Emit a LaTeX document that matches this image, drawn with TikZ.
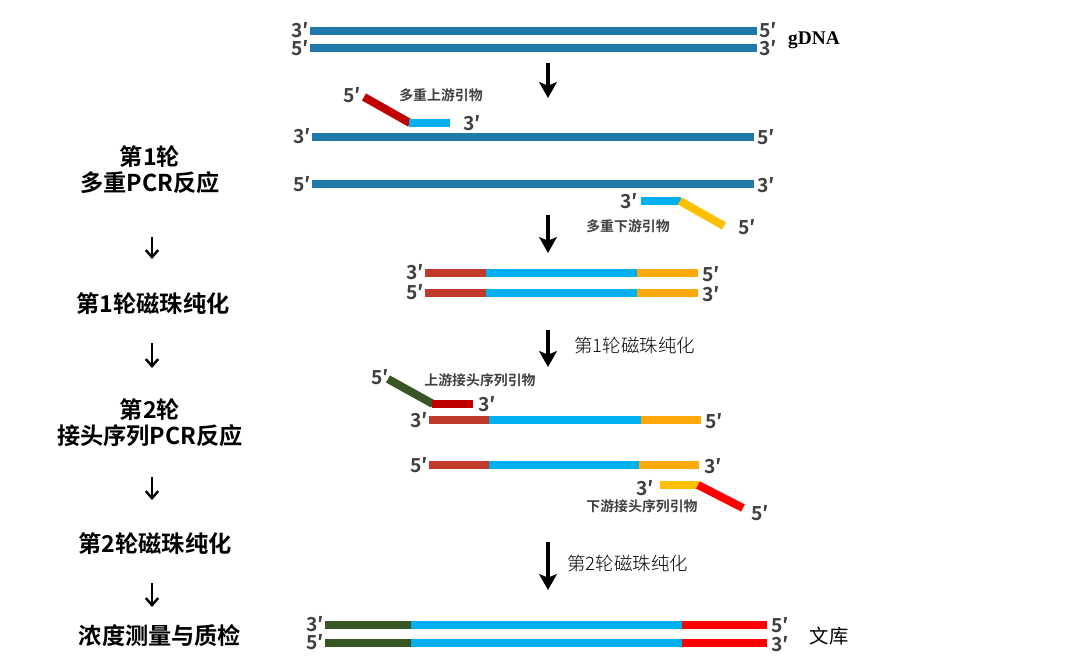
\documentclass[tikz,border=0pt]{standalone}
\usepackage{fontspec}
\setmainfont{Noto Sans CJK SC}
\newfontfamily\cjkbold{Noto Sans CJK SC Bold}
\newfontfamily\cjklight{Noto Sans CJK SC Light}
\newfontfamily\tnr{Liberation Serif}
\usetikzlibrary{arrows.meta}

\definecolor{gblue}{RGB}{31,120,170}
\definecolor{icyan}{RGB}{0,176,240}
\definecolor{fred}{RGB}{192,57,43}
\definecolor{pred}{RGB}{192,0,0}
\definecolor{forange}{RGB}{255,168,12}
\definecolor{pyellow}{RGB}{255,192,0}
\definecolor{agreen}{RGB}{55,86,35}
\definecolor{ared}{RGB}{255,0,0}
\definecolor{lblgray}{RGB}{64,64,64}

\tikzset{
  strand/.style={line width=4.6pt},
  primer/.style={line width=4.6pt},
  prime/.style={font=\cjkbold\fontsize{11}{11}\selectfont, text=lblgray, inner sep=0.5pt},
  primerlbl/.style={font=\cjkbold\fontsize{7.9}{8}\selectfont, text=lblgray, inner sep=0pt},
  steplbl/.style={font=\cjkbold\fontsize{13.2}{14.8}\selectfont, align=center, inner sep=0pt},
  purelbl/.style={font=\cjklight\fontsize{10.5}{11}\selectfont, anchor=west, inner sep=0pt},
  bigarrow/.style={line width=2.4pt, -{Stealth[length=9pt, width=10pt, inset=2pt]}},
  flowarrow/.style={line width=1.4pt, -{Straight Barb[length=4pt, width=7pt]}},
}

\begin{document}
\begin{tikzpicture}[x=0.02cm, y=-0.02cm]
  \useasboundingbox (0,0) rectangle (1080,661);

  % Flow chart on the left
  \node[steplbl] (k1) at (150,170) {第1轮\\多重PCR反应};
  \node[steplbl] (k2) at (153,304) {第1轮磁珠纯化};
  \node[steplbl] (k3) at (150,423) {第2轮\\接头序列PCR反应};
  \node[steplbl] (k4) at (155,544) {第2轮磁珠纯化};
  \node[steplbl] (k5) at (160,636) {浓度测量与质检};
  \coordinate (f1a) at (152,237); \coordinate (f1b) at (152,259);
  \coordinate (f2a) at (152,343); \coordinate (f2b) at (152,368);
  \coordinate (f3a) at (152,477); \coordinate (f3b) at (152,500);
  \coordinate (f4a) at (152,583); \coordinate (f4b) at (152,607);
  \draw[flowarrow] (f1a) -- (f1b);
  \draw[flowarrow] (f2a) -- (f2b);
  \draw[flowarrow] (f3a) -- (f3b);
  \draw[flowarrow] (f4a) -- (f4b);

  % gDNA
  \draw[strand, gblue] (310,31) -- (757,31);
  \draw[strand, gblue] (310,48) -- (757,48);
  \node[prime, anchor=east] (g1l) at (310,30) {3′};
  \node[prime, anchor=west] (g1r) at (758,30) {5′};
  \node[prime, anchor=east] (g2l) at (310,48) {5′};
  \node[prime, anchor=west] (g2r) at (758,48) {3′};
  \node[font=\tnr\bfseries\fontsize{11}{12}\selectfont, inner sep=0pt] (gdna) at (814,40) {gDNA};

  \coordinate (a1a) at (548,63); \coordinate (a1b) at (548,98);
  \draw[bigarrow] (a1a) -- (a1b);

  % multiplex PCR
  \draw[primer, pred] (364,97) -- (410,123);
  \draw[primer, icyan] (409,123) -- (450,123);
  \node[prime] (p1l) at (352,95) {5′};
  \node[prime, anchor=west] (p1r) at (462,123) {3′};
  \node[primerlbl] (up1) at (441,95) {多重上游引物};
  \draw[strand, gblue] (312,137) -- (754,137);
  \draw[strand, gblue] (312,184) -- (754,184);
  \node[prime, anchor=east] (s1l) at (312,136) {3′};
  \node[prime, anchor=west] (s1r) at (756,137) {5′};
  \node[prime, anchor=east] (s2l) at (312,184) {5′};
  \node[prime, anchor=west] (s2r) at (756,185) {3′};
  \draw[primer, icyan] (641,201) -- (681,201);
  \draw[primer, pyellow] (680,201) -- (724,226);
  \node[prime, anchor=east] (p2l) at (639,201) {3′};
  \node[prime] (p2r) at (747,227) {5′};
  \node[primerlbl] (dn1) at (628,226) {多重下游引物};

  \coordinate (a2a) at (548,215); \coordinate (a2b) at (548,253);
  \draw[bigarrow] (a2a) -- (a2b);

  % product of round 1
  \draw[strand, fred] (425,273) -- (487,273);
  \draw[strand, icyan] (486,273) -- (638,273);
  \draw[strand, forange] (637,273) -- (698,273);
  \draw[strand, fred] (425,293) -- (487,293);
  \draw[strand, icyan] (486,293) -- (638,293);
  \draw[strand, forange] (637,293) -- (698,293);
  \node[prime, anchor=east] (r1l) at (425,272) {3′};
  \node[prime, anchor=west] (r1r) at (701,274) {5′};
  \node[prime, anchor=east] (r2l) at (425,292) {5′};
  \node[prime, anchor=west] (r2r) at (701,294) {3′};

  \coordinate (a3a) at (548,330); \coordinate (a3b) at (548,367);
  \draw[bigarrow] (a3a) -- (a3b);
  \node[purelbl] (b1) at (574,346) {第1轮磁珠纯化};

  % adaptor PCR
  \draw[primer, agreen] (388,379) -- (433,404);
  \draw[primer, pred] (432,404) -- (473,404);
  \node[prime] (q1l) at (380,377) {5′};
  \node[prime, anchor=west] (q1r) at (477,404) {3′};
  \node[primerlbl] (up2) at (480,380) {上游接头序列引物};
  \draw[strand, fred] (429,420) -- (490,420);
  \draw[strand, icyan] (489,420) -- (642,420);
  \draw[strand, forange] (641,420) -- (701,420);
  \draw[strand, fred] (429,465) -- (490,465);
  \draw[strand, icyan] (489,465) -- (640,465);
  \draw[strand, forange] (639,465) -- (699,465);
  \node[prime, anchor=east] (t1l) at (429,420) {3′};
  \node[prime, anchor=west] (t1r) at (704,421) {5′};
  \node[prime, anchor=east] (t2l) at (429,465) {5′};
  \node[prime, anchor=west] (t2r) at (703,466) {3′};
  \draw[primer, pyellow] (660,485) -- (699,485);
  \draw[primer, ared] (698,485) -- (743,508);
  \node[prime] (q2l) at (645,488) {3′};
  \node[prime] (q2r) at (760,513) {5′};
  \node[primerlbl] (dn2) at (642,506) {下游接头序列引物};

  \coordinate (a4a) at (548,542); \coordinate (a4b) at (548,590);
  \draw[bigarrow] (a4a) -- (a4b);
  \node[purelbl] (b2) at (567,564) {第2轮磁珠纯化};

  % final library
  \draw[strand, agreen] (325,625) -- (412,625);
  \draw[strand, icyan] (411,625) -- (683,625);
  \draw[strand, ared] (682,625) -- (767,625);
  \draw[strand, agreen] (325,643) -- (412,643);
  \draw[strand, icyan] (411,643) -- (683,643);
  \draw[strand, ared] (682,643) -- (767,643);
  \node[prime, anchor=east] (w1l) at (325,624) {3′};
  \node[prime, anchor=west] (w1r) at (770,625) {5′};
  \node[prime, anchor=east] (w2l) at (325,642) {5′};
  \node[prime, anchor=west] (w2r) at (770,644) {3′};
  \node[font=\fontsize{11}{12}\selectfont, inner sep=0pt] (lib) at (829,636) {文库};
\end{tikzpicture}
\end{document}
